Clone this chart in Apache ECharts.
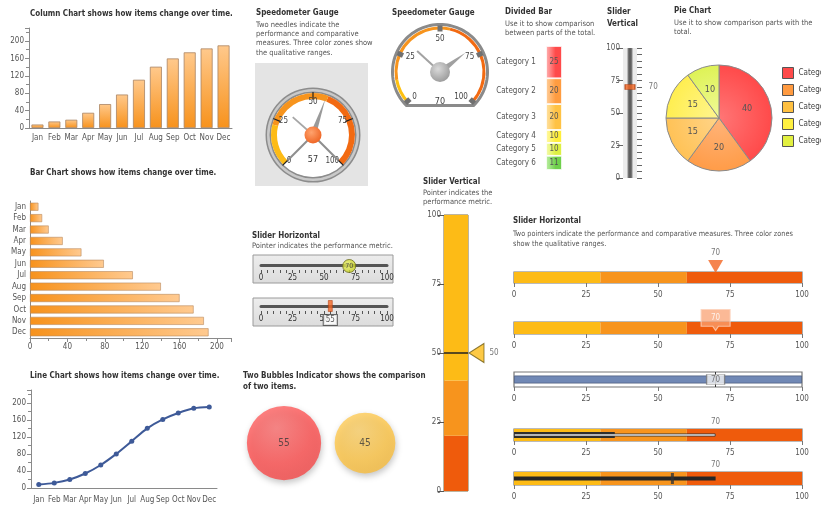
<!DOCTYPE html>
<html>
<head>
<meta charset="utf-8">
<script src="https://cdn.jsdelivr.net/npm/echarts@6/dist/echarts.min.js"></script>
<style>
html,body{margin:0;padding:0;background:#fff;}
#dash{width:821px;height:508px;}
</style>
</head>
<body>
<div id="dash"></div>
<script>
// ---- data ----
const months = ['Jan','Feb','Mar','Apr','May','Jun','Jul','Aug','Sep','Oct','Nov','Dec'];
const columnValues = [8, 15, 19, 35, 55, 77, 111, 141, 160, 174, 183, 190];
const barValues = [9, 13, 20, 35, 55, 79, 110, 140, 160, 175, 186, 191];
const lineValues = [8, 12, 20, 34, 54, 80, 110, 140, 161, 176, 187, 190];

const gaugeLeft = { performance: 57, comparative: 32 };
const gaugeRight = { performance: 70, comparative: 32 };
const gaugeEnds = [0, 100];

const dividedNames = ['Category 1','Category 2','Category 3','Category 4','Category 5','Category 6'];
const dividedValues = [25, 20, 20, 10, 10, 11];

const smallSliderValue = 70;

const pieNames = ['Category 1','Category 2','Category 3','Category 4','Category 5'];
const pieValues = [40, 20, 15, 15, 10];

const sliderLeftValues = [70, 55];
const bubbleNames = ['Item A','Item B'];
const bubbleValues = [55, 45];

const tallSliderZones = [20, 40, 100];
const tallSliderValue = 50;

const zoneEdges = [30, 60, 100];
const bulletTrack = 100;
const bulletPointer = 70;
const bulletFourBar = 35;
const bulletFiveMarker = 55;

// ---- styling ----
const FONT = '"Liberation Sans Narrow","DejaVu Sans Condensed","Liberation Sans",sans-serif';
const AX = '#8a8a8a';
const LBL = '#555';
const lbl = { color: LBL, fontSize: 8, fontFamily: FONT };
const zoneColors = ['#FDBB16', '#F7941D', '#EF5B0C'];
const tallColors = ['#EF5B0C', '#F7941D', '#FDBB16'];

const grids = [], xAxes = [], yAxes = [], series = [], graphics = [];
const addGrid = g => (grids.push(Object.assign({ containLabel: false }, g)), grids.length - 1);
const addX = a => (xAxes.push(a), xAxes.length - 1);
const addY = a => (yAxes.push(a), yAxes.length - 1);
const hiddenAxis = (type, gridIndex, extra) => Object.assign({ type, gridIndex, show: false }, extra || {});

// headings are set in a condensed way by squeezing the text horizontally
function text(x, y, str, bold, size, lh, squeeze) {
  graphics.push({
    type: 'text', x, y, silent: true, scaleX: squeeze || 1,
    style: {
      text: str, fill: bold ? '#333' : '#555',
      font: (bold ? 'bold ' : '') + size + 'px ' + FONT,
      lineHeight: lh || size + 2, verticalAlign: 'top'
    }
  });
}
const SQ = 0.84;

// ---- headings ----
text(30, 8, 'Column Chart shows how items change over time.', true, 9.5, 0, SQ);
text(30, 167, 'Bar Chart shows how items change over time.', true, 9.5, 0, SQ);
text(30, 370, 'Line Chart shows how items change over time.', true, 9.5, 0, SQ);
text(256, 7, 'Speedometer Gauge', true, 9.5, 0, SQ);
text(256, 20, 'Two needles indicate the\nperformance and comparative\nmeasures. Three color zones show\nthe qualitative ranges.', false, 7.5, 9.3);
text(392, 7, 'Speedometer Gauge', true, 9.5, 0, SQ);
text(505, 6, 'Divided Bar', true, 9.5, 0, SQ);
text(505, 19, 'Use it to show comparison\nbetween parts of the total.', false, 7.5, 9.3);
text(607, 6, 'Slider\nVertical', true, 9.5, 12, SQ);
text(674, 5, 'Pie Chart', true, 9.5, 0, SQ);
text(674, 18, 'Use it to show comparison parts with the\ntotal.', false, 7.5, 9.3);
text(252, 230, 'Slider Horizontal', true, 9.5, 0, SQ);
text(252, 241, 'Pointer indicates the performance metric.', false, 7.5);
text(243, 370, 'Two Bubbles Indicator shows the comparison\nof two items.', true, 9.5, 11, SQ);
text(423, 176, 'Slider Vertical', true, 9.5, 0, SQ);
text(423, 188, 'Pointer indicates the\nperformance metric.', false, 7.5, 9.3);
text(513, 215, 'Slider Horizontal', true, 9.5, 0, SQ);
text(513, 229, 'Two pointers indicate the performance and comparative measures. Three color zones\nshow the qualitative ranges.', false, 7.5, 10, 0.97);

// ---- column chart ----
{
  const g = addGrid({ left: 29, top: 28, width: 203, height: 100 });
  const x = addX({ type: 'category', gridIndex: g, data: months,
    axisLine: { lineStyle: { color: AX } }, axisTick: { show: false },
    axisLabel: Object.assign({ interval: 0, margin: 6 }, lbl) });
  const y = addY({ type: 'value', gridIndex: g, min: 0, max: 230, interval: 40,
    axisLine: { show: true, lineStyle: { color: AX } },
    axisTick: { show: true, length: 4, lineStyle: { color: AX } },
    minorTick: { show: true, splitNumber: 2, length: 3, lineStyle: { color: AX } },
    splitLine: { show: false },
    axisLabel: Object.assign({ showMaxLabel: false, margin: 5 }, lbl) });
  series.push({ type: 'bar', xAxisIndex: x, yAxisIndex: y, data: columnValues, barWidth: 12,
    itemStyle: { borderColor: '#A98463', borderWidth: 0.8,
      color: { type: 'linear', x: 0, y: 0, x2: 0, y2: 1,
        colorStops: [{ offset: 0, color: '#FFC98C' }, { offset: 1, color: '#F7921C' }] } } });
}

// ---- bar chart ----
{
  const g = addGrid({ left: 30, top: 201, width: 201, height: 137 });
  const x = addX({ type: 'value', gridIndex: g, min: 0, max: 215, interval: 40,
    axisLine: { show: true, lineStyle: { color: AX } },
    axisTick: { show: true, length: 4, lineStyle: { color: AX } },
    minorTick: { show: true, splitNumber: 2, length: 3, lineStyle: { color: AX } },
    splitLine: { show: false },
    axisLabel: Object.assign({ showMaxLabel: false, margin: 5 }, lbl) });
  const y = addY({ type: 'category', gridIndex: g, data: months, inverse: true,
    axisLine: { show: true, lineStyle: { color: AX } }, axisTick: { show: false },
    axisLabel: Object.assign({ interval: 0, margin: 4 }, lbl) });
  series.push({ type: 'bar', xAxisIndex: x, yAxisIndex: y, data: barValues, barWidth: 8,
    itemStyle: { borderColor: '#B98A5E', borderWidth: 0.6,
      color: { type: 'linear', x: 0, y: 0, x2: 1, y2: 0,
        colorStops: [{ offset: 0, color: '#F7921C' }, { offset: 1, color: '#FFCA90' }] } } });
}

// ---- line chart ----
{
  const g = addGrid({ left: 31, top: 390, width: 186, height: 98 });
  const x = addX({ type: 'category', gridIndex: g, data: months,
    axisLine: { lineStyle: { color: AX } }, axisTick: { show: false },
    axisLabel: Object.assign({ interval: 0, margin: 8 }, lbl) });
  const y = addY({ type: 'value', gridIndex: g, min: 0, max: 230, interval: 40,
    axisLine: { show: true, lineStyle: { color: AX } },
    axisTick: { show: true, length: 4, lineStyle: { color: AX } },
    minorTick: { show: true, splitNumber: 2, length: 3, lineStyle: { color: AX } },
    splitLine: { show: false },
    axisLabel: Object.assign({ showMaxLabel: false, margin: 5 }, lbl) });
  series.push({ type: 'line', xAxisIndex: x, yAxisIndex: y, data: lineValues, smooth: 0.3,
    symbol: 'circle', symbolSize: 5,
    lineStyle: { color: '#3E5A98', width: 2 }, itemStyle: { color: '#3E5A98' } });
}

// ---- gauges ----
function gaugeBase(o) {
  return Object.assign({
    type: 'gauge', min: 0, max: 100, splitNumber: 4, silent: true,
    axisLine: { show: false }, axisTick: { show: false }, splitLine: { show: false },
    axisLabel: { show: false }, pointer: { show: false }, anchor: { show: false },
    title: { show: false }, detail: { show: false }, progress: { show: false },
    data: [{ value: 0 }]
  }, o);
}
const ring = (center, radius, width, color, z) => gaugeBase({ center, radius, startAngle: 90, endAngle: -270,
  axisLine: { show: true, lineStyle: { width, color: [[1, color]] } }, z });

// left gauge on a grey panel
graphics.push({ type: 'rect', z: -1, silent: true, shape: { x: 255, y: 63, width: 113, height: 123 }, style: { fill: '#E4E4E4' } });
{
  const c = [313, 135];
  series.push(ring(c, 47.5, 6, '#8C8C8C', 2));
  series.push(ring(c, 46, 2.5, '#C9C9C9', 3));
  series.push(ring(c, 42, 42, '#FFFFFF', 3));
  series.push(gaugeBase({ center: c, radius: 42, startAngle: 225, endAngle: -45, z: 4,
    axisLine: { show: true, lineStyle: { width: 6, color: [[0.22, '#FDBB16'], [0.58, '#F7941D'], [1, '#F26A12']] } },
    splitLine: { show: true, length: 8, distance: -7, lineStyle: { color: '#222', width: 1.2 } },
    axisLabel: { show: true, distance: 4, color: '#444', fontSize: 8, fontFamily: FONT } }));
  series.push(gaugeBase({ center: c, radius: 42, startAngle: 225, endAngle: -45, z: 5,
    pointer: { show: true, icon: 'rect', length: 36, width: 2 },
    itemStyle: { color: '#8E8E8E' },
    data: gaugeEnds.map(v => ({ value: v })) }));
  series.push(gaugeBase({ center: c, radius: 42, startAngle: 225, endAngle: -45, z: 6,
    pointer: { show: true, icon: 'rect', length: 27, width: 1.8 },
    itemStyle: { color: '#A6A6A6' },
    data: [{ value: gaugeLeft.comparative }] }));
  series.push(gaugeBase({ center: c, radius: 42, startAngle: 225, endAngle: -45, z: 7,
    pointer: { show: true, icon: 'triangle', length: 38, width: 6 },
    itemStyle: { color: '#9A9A9A' },
    anchor: { show: true, showAbove: true, size: 17,
      itemStyle: { color: { type: 'radial', x: 0.4, y: 0.35, r: 0.7,
        colorStops: [{ offset: 0, color: '#FFA36E' }, { offset: 1, color: '#EE6220' }] } } },
    detail: { show: true, offsetCenter: [0, 25], fontSize: 9, fontWeight: 'normal', color: '#333', fontFamily: FONT, formatter: '{value}' },
    data: [{ value: gaugeLeft.performance }] }));
}

// right gauge with a flat-bottomed face
{
  const c = [440, 72], r = 47.5;
  const pts = [];
  for (let a = 225; a >= -45; a -= 3) {
    const t = a * Math.PI / 180;
    pts.push([c[0] + r * Math.cos(t), c[1] - r * Math.sin(t)]);
  }
  graphics.push({ type: 'polygon', z: 1, silent: true, shape: { points: pts },
    style: { fill: '#FFFFFF', stroke: '#8A8A8A', lineWidth: 3 } });
  series.push(gaugeBase({ center: c, radius: 45.5, startAngle: 222, endAngle: -42, z: 4,
    axisLine: { show: true, lineStyle: { width: 3, color: [[0.12, '#FDC010'], [0.55, '#F7941D'], [1, '#F26A12']] } },
    splitLine: { show: true, length: 6, distance: -4, lineStyle: { color: '#707070', width: 5 } },
    axisLabel: { show: true, distance: 6, color: '#444', fontSize: 8, fontFamily: FONT } }));
  series.push(gaugeBase({ center: c, radius: 45.5, startAngle: 222, endAngle: -42, z: 6,
    pointer: { show: true, icon: 'rect', length: 31, width: 2 },
    itemStyle: { color: '#A2A2A2' },
    data: [{ value: gaugeRight.comparative }] }));
  series.push(gaugeBase({ center: c, radius: 45.5, startAngle: 222, endAngle: -42, z: 7,
    pointer: { show: true, icon: 'triangle', length: 32, width: 7 },
    itemStyle: { color: '#A0A0A0' },
    anchor: { show: true, showAbove: true, size: 20,
      itemStyle: { color: { type: 'radial', x: 0.4, y: 0.35, r: 0.7,
        colorStops: [{ offset: 0, color: '#DADADA' }, { offset: 1, color: '#999999' }] } } },
    detail: { show: true, offsetCenter: [0, 30], fontSize: 9, fontWeight: 'normal', color: '#444', fontFamily: FONT, formatter: '{value}' },
    data: [{ value: gaugeRight.performance }] }));
}

// ---- divided bar ----
{
  const total = dividedValues.reduce((a, b) => a + b, 0);
  const shades = [['#FFB4B4', '#FF4A4A'], ['#FFCF9C', '#FF9C40'], ['#FFE2A4', '#FFC244'],
                  ['#FFF9A8', '#FFEE3A'], ['#F4FBAE', '#DDF043'], ['#BDEFA4', '#6FD04C']];
  const g = addGrid({ left: 546, top: 46, width: 16, height: 124 });
  const x = addX(hiddenAxis('category', g, { data: ['total'] }));
  const y = addY(hiddenAxis('value', g, { min: 0, max: total, inverse: true }));
  dividedNames.forEach((name, i) => {
    series.push({ type: 'bar', name, stack: 'divided', xAxisIndex: x, yAxisIndex: y, barWidth: 16,
      data: [dividedValues[i]],
      itemStyle: { borderColor: '#FFFFFF', borderWidth: 0.8,
        color: { type: 'linear', x: 0, y: 0, x2: 1, y2: 0,
          colorStops: [{ offset: 0, color: shades[i][0] }, { offset: 0.6, color: shades[i][1] }, { offset: 1, color: shades[i][1] }] } },
      label: { show: true, position: ['100%', '50%'], align: 'right', verticalAlign: 'middle',
        formatter: p => '{n|' + p.seriesName + '}{v|' + p.value + '}',
        rich: {
          n: { width: 50, align: 'right', padding: [0, 5, 0, 0], fontSize: 8, color: '#555', fontFamily: FONT },
          v: { width: 16, align: 'center', fontSize: 8, color: '#555', fontFamily: FONT }
        } } });
  });
}

// ---- small vertical slider ----
{
  const g = addGrid({ left: 623, top: 48, width: 14, height: 130, show: true, backgroundColor: '#ECECEC', borderWidth: 0 });
  const x = addX(hiddenAxis('category', g, { data: ['track'] }));
  const y = addY({ type: 'value', gridIndex: g, min: 0, max: 100, interval: 25, position: 'left',
    axisLine: { show: false }, splitLine: { show: false },
    axisTick: { show: true, length: 6, lineStyle: { color: '#666' } },
    axisLabel: Object.assign({ margin: 3 }, lbl) });
  addY({ type: 'value', gridIndex: g, min: 0, max: 100, interval: 5, position: 'right',
    axisLine: { show: false }, splitLine: { show: false }, axisLabel: { show: false },
    axisTick: { show: true, length: 5, lineStyle: { color: '#666' } } });
  series.push({ type: 'bar', xAxisIndex: x, yAxisIndex: y, data: [100], barWidth: 5, silent: true,
    itemStyle: { color: { type: 'linear', x: 0, y: 0, x2: 1, y2: 0,
      colorStops: [{ offset: 0, color: '#8A8A8A' }, { offset: 0.5, color: '#555' }, { offset: 1, color: '#8A8A8A' }] } } });
  series.push({ type: 'scatter', xAxisIndex: x, yAxisIndex: y, data: [smallSliderValue],
    symbol: 'rect', symbolSize: [10, 5], z: 5,
    itemStyle: { color: '#F26522', borderColor: '#A8380A', borderWidth: 0.8 },
    label: { show: true, position: 'right', distance: 13, formatter: '{c}', fontSize: 8, color: '#555', fontFamily: FONT } });
}

// ---- pie ----
{
  const shades = [['#FF7676', '#FF4A4A'], ['#FFB47A', '#FF9C48'], ['#FFD488', '#FFC256'], ['#FFF590', '#FFEE50'], ['#F0FA98', '#DEF256']];
  const legendColors = ['#FF4A4A', '#FF9A40', '#FFC040', '#FFF040', '#E2F040'];
  series.push({ type: 'pie', center: [719, 118], radius: 53, startAngle: 90, clockwise: true, silent: true,
    data: pieNames.map((n, i) => ({ name: n, value: pieValues[i],
      itemStyle: { color: { type: 'radial', x: 719, y: 118, r: 53, global: true,
        colorStops: [{ offset: 0, color: shades[i][0] }, { offset: 1, color: shades[i][1] }] } } })),
    itemStyle: { borderColor: '#8A8A8A', borderWidth: 1 },
    label: { show: true, position: 'inner', formatter: '{c}', fontSize: 9, color: '#555', fontFamily: FONT },
    labelLine: { show: false } });
  graphics.legendData = pieNames.map((n, i) => ({ name: n, itemStyle: { color: legendColors[i], borderColor: '#555', borderWidth: 1 } }));
}

// ---- left horizontal sliders ----
[[255, 265], [298, 306]].forEach(([boxTop, trackY], k) => {
  graphics.push({ type: 'rect', z: 0, silent: true, shape: { x: 253, y: boxTop, width: 140, height: 28 },
    style: { stroke: '#9A9A9A', lineWidth: 1,
      fill: { type: 'linear', x: 0, y: 0, x2: 0, y2: 1, colorStops: [{ offset: 0, color: '#EDEDED' }, { offset: 1, color: '#DCDCDC' }] } } });
  const g = addGrid({ left: 261, top: trackY, width: 126, height: 5 });
  const xTop = addX({ type: 'value', gridIndex: g, min: 0, max: 100, position: 'top',
    axisLine: { show: true, lineStyle: { color: '#555', width: 3 } }, axisTick: { show: false },
    axisLabel: { show: false }, splitLine: { show: false } });
  addX({ type: 'value', gridIndex: g, min: 0, max: 100, interval: 25, position: 'bottom',
    axisLine: { show: false }, splitLine: { show: false },
    axisTick: { show: true, length: 3, lineStyle: { color: '#555' } },
    minorTick: { show: true, splitNumber: 5, length: 3, lineStyle: { color: '#555' } },
    axisLabel: Object.assign({ margin: 4 }, lbl, { color: '#333' }) });
  const y = addY(hiddenAxis('category', g, { data: ['pointer'] }));
  if (k === 0) {
    series.push({ type: 'scatter', xAxisIndex: xTop, yAxisIndex: y, data: [sliderLeftValues[0]], z: 5,
      symbol: 'circle', symbolSize: 13, symbolOffset: [0, -1.5],
      itemStyle: { borderColor: '#6B6B1E', borderWidth: 1,
        color: { type: 'radial', x: 0.4, y: 0.4, r: 0.7, colorStops: [{ offset: 0, color: '#EEF36A' }, { offset: 1, color: '#BFCB12' }] } },
      label: { show: true, position: 'inside', formatter: '{c}', fontSize: 7, color: '#333', fontFamily: FONT } });
  } else {
    series.push({ type: 'scatter', xAxisIndex: xTop, yAxisIndex: y, data: [sliderLeftValues[1]], z: 5,
      symbol: 'rect', symbolSize: [4, 11], symbolOffset: [0, -2.5],
      itemStyle: { color: '#F26522', borderColor: '#B33A0A', borderWidth: 0.6 },
      label: { show: true, position: 'bottom', distance: 3, formatter: '{c}', fontSize: 8, color: '#333', fontFamily: FONT,
        backgroundColor: '#FFFFFF', borderColor: '#444', borderWidth: 1, padding: [1, 2] } });
  }
});

// ---- two bubbles ----
{
  const g = addGrid({ left: 243.5, top: 433, width: 162, height: 20 });
  const x = addX(hiddenAxis('category', g, { data: bubbleNames }));
  const y = addY(hiddenAxis('category', g, { data: ['row'] }));
  const shades = [['#FF7373', '#FF5050', '#F24646'], ['#FFD36C', '#FFC646', '#F5B93A']];
  series.push({ type: 'scatter', xAxisIndex: x, yAxisIndex: y, silent: true,
    data: bubbleValues.map((v, i) => ({ value: [i, 0, v],
      itemStyle: { shadowBlur: 6, shadowColor: 'rgba(0,0,0,0.28)', shadowOffsetX: 1, shadowOffsetY: 3,
        color: { type: 'radial', x: 0.4, y: 0.3, r: 0.8, colorStops: [{ offset: 0, color: shades[i][0] }, { offset: 0.6, color: shades[i][1] }, { offset: 1, color: shades[i][2] }] } } })),
    symbolSize: d => d[2] * 1.35,
    label: { show: true, position: 'inside', formatter: p => p.value[2], fontSize: 10, color: '#3A3A3A', fontFamily: FONT } });
}

// ---- tall vertical slider ----
{
  const g = addGrid({ left: 444, top: 215, width: 24, height: 276, show: true, borderColor: '#7A6A40', borderWidth: 1 });
  const x = addX(hiddenAxis('category', g, { data: ['metric'] }));
  const y = addY({ type: 'value', gridIndex: g, min: 0, max: 100, interval: 25,
    axisLine: { show: false }, splitLine: { show: false },
    axisTick: { show: true, length: 6, lineStyle: { color: '#555' } },
    axisLabel: Object.assign({ margin: 3 }, lbl) });
  tallSliderZones.forEach((edge, i) => {
    series.push({ type: 'bar', stack: 'zones', xAxisIndex: x, yAxisIndex: y, barWidth: '100%', silent: true,
      data: [edge - (i ? tallSliderZones[i - 1] : 0)], itemStyle: { color: tallColors[i] } });
  });
  series.push({ type: 'scatter', xAxisIndex: x, yAxisIndex: y, data: [tallSliderValue], z: 6,
    symbol: 'triangle', symbolRotate: 90, symbolSize: [19, 15], symbolOffset: [20.5, 0],
    itemStyle: { color: '#FDBB16', borderColor: '#6E5A10', borderWidth: 1 },
    markLine: { silent: true, symbol: 'none', label: { show: false },
      lineStyle: { color: '#222', width: 1.5, type: 'solid' }, data: [{ yAxis: tallSliderValue }] } });
  series.push({ type: 'scatter', xAxisIndex: x, yAxisIndex: y, data: [tallSliderValue], z: 6,
    symbolSize: 1, itemStyle: { color: 'rgba(0,0,0,0)' },
    label: { show: true, position: 'right', distance: 33, formatter: '{c}', fontSize: 8, color: '#555', fontFamily: FONT } });
}

// ---- right horizontal sliders ----
function bulletGrid(top, height, bg) {
  const g = addGrid({ left: 514, top, width: 288, height, show: true, borderColor: '#777', borderWidth: 1.2, backgroundColor: bg || 'transparent' });
  const x = addX({ type: 'value', gridIndex: g, min: 0, max: 100, interval: 25,
    axisLine: { show: false }, splitLine: { show: false },
    axisTick: { show: true, length: 4, lineStyle: { color: '#777' } },
    axisLabel: Object.assign({ margin: 8 }, lbl) });
  return { g, x };
}
function zoneBars(x, y) {
  zoneEdges.forEach((edge, i) => {
    series.push({ type: 'bar', stack: 'zones' + y, xAxisIndex: x, yAxisIndex: y, barWidth: '100%', silent: true,
      data: [edge - (i ? zoneEdges[i - 1] : 0)], itemStyle: { color: zoneColors[i] } });
  });
}
function valueLabel(x, y, v, dist) {
  series.push({ type: 'scatter', xAxisIndex: x, yAxisIndex: y, data: [v], z: 8, symbolSize: 1, silent: true,
    itemStyle: { color: 'rgba(0,0,0,0)' },
    label: { show: true, position: 'top', distance: dist, formatter: '{c}', fontSize: 8, color: '#555', fontFamily: FONT } });
}
// 1: triangle pointer
{
  const { g, x } = bulletGrid(272, 11);
  const y = addY(hiddenAxis('category', g, { data: ['a'] }));
  zoneBars(x, y);
  series.push({ type: 'scatter', xAxisIndex: x, yAxisIndex: y, data: [bulletPointer], z: 6, silent: true,
    symbol: 'triangle', symbolRotate: 180, symbolSize: [15, 13], symbolOffset: [0, -11],
    itemStyle: { color: '#F26522' } });
  valueLabel(x, y, bulletPointer, 20);
}
// 2: callout pointer
{
  const { g, x } = bulletGrid(322, 12);
  const y = addY(hiddenAxis('category', g, { data: ['a'] }));
  zoneBars(x, y);
  series.push({ type: 'scatter', xAxisIndex: x, yAxisIndex: y, data: [bulletPointer], z: 6, silent: true,
    symbol: 'path://M0,0H30V16H18L15,20L12,16H0Z', symbolKeepAspect: false, symbolSize: [29, 21], symbolOffset: [0, -8],
    itemStyle: { color: 'rgba(249,160,112,0.92)', borderColor: '#FCD2BA', borderWidth: 1 },
    label: { show: true, position: 'inside', offset: [0, -2], formatter: '{c}', fontSize: 8, color: '#FFFFFF', fontFamily: FONT } });
}
// 3: blue track with boxed pointer
{
  const { g, x } = bulletGrid(372, 15, '#FFFFFF');
  const y = addY(hiddenAxis('category', g, { data: ['a'] }));
  series.push({ type: 'bar', xAxisIndex: x, yAxisIndex: y, data: [bulletTrack], barWidth: 8, silent: true,
    itemStyle: { color: '#7088B5', borderColor: '#4E5F80', borderWidth: 0.8 },
    markLine: { silent: true, symbol: 'none', label: { show: false },
      lineStyle: { color: '#333', width: 1, type: 'solid' }, data: [{ xAxis: bulletPointer }] } });
  series.push({ type: 'scatter', xAxisIndex: x, yAxisIndex: y, data: [bulletPointer], z: 6, silent: true,
    symbol: 'rect', symbolSize: [18, 10],
    itemStyle: { color: '#F4F4F4', borderColor: '#777', borderWidth: 1 },
    label: { show: true, position: 'inside', formatter: '{c}', fontSize: 8, color: '#555', fontFamily: FONT } });
}
// 4: two bars
{
  const { g, x } = bulletGrid(429, 12);
  const y = addY(hiddenAxis('category', g, { data: ['a'] }));
  const y2 = addY(hiddenAxis('category', g, { data: ['a'] }));
  const y3 = addY(hiddenAxis('category', g, { data: ['a'] }));
  zoneBars(x, y);
  series.push({ type: 'bar', xAxisIndex: x, yAxisIndex: y2, data: [bulletFourBar], barWidth: 6, silent: true,
    itemStyle: { color: '#2E2E2E' } });
  series.push({ type: 'bar', xAxisIndex: x, yAxisIndex: y3, data: [bulletPointer], barWidth: 3, silent: true,
    itemStyle: { color: '#F2F2F2', borderColor: '#333', borderWidth: 0.8 } });
  valueLabel(x, y, bulletPointer, 9);
}
// 5: bar with marker
{
  const { g, x } = bulletGrid(472, 13);
  const y = addY(hiddenAxis('category', g, { data: ['a'] }));
  const y2 = addY(hiddenAxis('category', g, { data: ['a'] }));
  zoneBars(x, y);
  series.push({ type: 'bar', xAxisIndex: x, yAxisIndex: y2, data: [bulletPointer], barWidth: 4, silent: true,
    itemStyle: { color: '#262626' } });
  series.push({ type: 'scatter', xAxisIndex: x, yAxisIndex: y2, data: [bulletFiveMarker], z: 6, silent: true,
    symbol: 'rect', symbolSize: [3, 11], itemStyle: { color: '#333' } });
  valueLabel(x, y, bulletPointer, 9);
}

const chart = echarts.init(document.getElementById('dash'), null, { renderer: 'canvas' });
chart.setOption({
  animation: false,
  backgroundColor: '#FFFFFF',
  textStyle: { fontFamily: FONT },
  grid: grids, xAxis: xAxes, yAxis: yAxes, series,
  legend: { orient: 'vertical', left: 777, top: 62, itemWidth: 11, itemHeight: 11, itemGap: 5,
    selectedMode: false, icon: 'rect', data: graphics.legendData,
    textStyle: { fontSize: 8, color: '#444', fontFamily: FONT } },
  graphic: { elements: graphics.slice() }
});
</script>
</body>
</html>
